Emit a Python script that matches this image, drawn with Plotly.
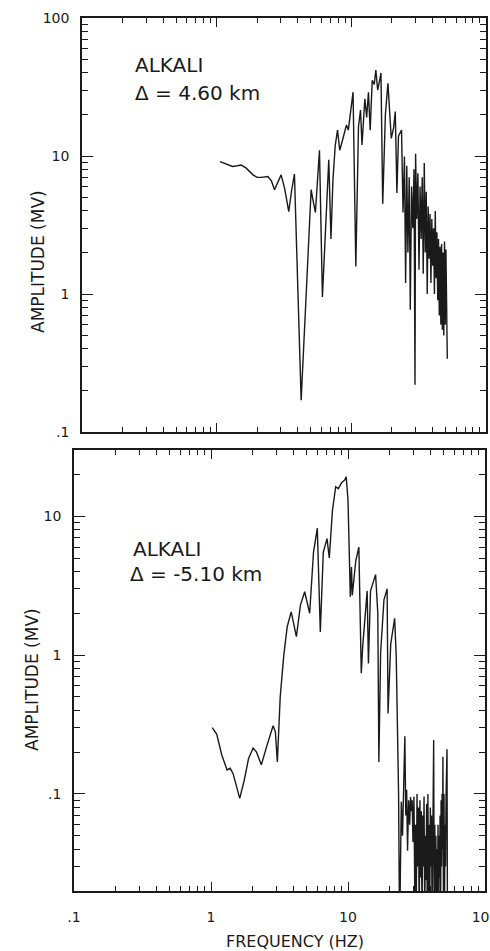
import plotly.graph_objects as go

# ---------------- data ----------------
top_freq = [1.06, 1.15, 1.25, 1.31, 1.42, 1.52, 1.65, 1.86, 2.0, 2.14, 2.4, 2.55, 2.69, 2.85, 3.01,
            3.2, 3.43, 3.6, 3.78, 4.24, 5.03, 5.15, 5.41, 5.8, 6.1, 6.8, 7.06, 7.3, 7.6, 7.9,
            8.2, 8.6, 9.2, 9.5, 10.3, 10.8, 11.3, 11.7, 12.0, 12.6, 13.0, 13.4, 13.8, 14.3, 14.8,
            15.2, 15.7, 16.2, 16.6, 17.1, 17.9, 18.7, 19.8, 20.6, 21.2, 21.8, 22.4, 23.6, 24.2, 24.8,
            25.3, 25.8, 26.3, 26.9, 27.4, 28.0, 28.6, 29.2, 29.7, 30.0, 30.6, 31.2, 31.8, 32.4, 33.0,
            33.6, 34.2, 34.8, 35.4, 36.0, 36.6, 37.2, 37.8, 38.4, 39.0, 39.6, 40.2, 40.8, 41.4, 42.0,
            42.6, 43.2, 43.8, 44.4, 45.0, 45.6, 46.2, 46.8, 47.4, 48.0, 48.6, 49.2, 49.8, 50.4, 51.0,
            51.6]
top_amp = [9.1, 8.8, 8.5, 8.4, 8.5, 8.6, 8.2, 7.3, 7.0, 7.0, 7.1, 6.6, 5.7, 6.4, 7.3,
           5.8, 3.95, 5.6, 7.4, 0.17, 5.7, 5.0, 3.9, 11.0, 0.95, 9.4, 2.5, 6.7, 12.0, 15.4,
           11.0, 13.0, 16.8, 15.4, 29.0, 1.58, 16.3, 21.5, 12.0, 26.0, 19.0, 29.0, 15.4, 35.4, 33.0,
           42.0, 30.0, 35.0, 40.0, 4.5, 20.0, 33.6, 13.4, 16.0, 21.0, 5.4, 14.0, 15.4, 3.9, 9.9,
           1.2, 8.5, 2.0, 7.0, 0.77, 6.0, 3.0, 8.0, 0.22, 10.4, 3.5, 7.5, 1.5, 6.0, 2.5,
           7.0, 1.4, 8.9, 2.0, 5.5, 1.0, 4.3, 1.8, 3.8, 1.2, 3.5, 1.6, 3.0, 1.0, 4.0,
           1.3, 2.8, 0.9, 2.5, 0.7, 2.2, 0.6, 2.3, 0.55, 2.0, 0.5, 2.4, 0.6, 2.1, 0.45,
           0.34]

bot_freq = [1.02, 1.10, 1.2, 1.31, 1.38, 1.45, 1.62, 1.75, 1.88, 2.03, 2.15, 2.33, 2.55, 2.84, 2.95,
            3.05, 3.2, 3.4, 3.6, 3.85, 4.2, 4.5, 4.83, 5.25, 5.6, 5.97, 6.28, 6.6, 7.03, 7.3,
            7.7, 8.13, 8.5, 9.0, 9.46, 9.7, 10.0, 10.4, 10.6, 10.75, 11.4, 12.0, 12.5, 12.8, 13.8,
            14.1, 14.6, 15.9, 16.5, 16.8, 17.3, 18.3, 19.3, 19.6, 20.5, 21.9, 22.5, 23.4, 23.8, 24.5,
            25.0, 25.4, 26.0, 26.4, 26.8, 27.2, 27.7, 28.2, 28.6, 29.0, 29.4, 29.8, 30.3, 30.7, 31.1,
            31.5, 31.9, 32.3, 32.7, 33.1, 33.5, 33.9, 34.3, 34.7, 35.1, 35.5, 35.9, 36.3, 36.7, 37.1,
            37.5, 37.9, 38.3, 38.7, 39.1, 39.5, 39.9, 40.3, 40.7, 41.1, 41.6, 42.2, 42.6, 43.0, 43.4,
            43.8, 44.2, 44.6, 45.0, 45.4, 45.8, 46.2, 46.6, 47.0, 47.4, 47.8, 48.2, 48.6, 49.0, 49.3,
            49.7, 50.2, 50.6, 51.0, 51.5, 52.0, 52.8, 53.2]
bot_amp = [0.30, 0.27, 0.19, 0.149, 0.153, 0.14, 0.093, 0.126, 0.18, 0.214, 0.20, 0.162, 0.22, 0.31, 0.28,
           0.17, 0.5, 1.0, 1.6, 2.05, 1.36, 2.3, 2.86, 2.0, 5.5, 8.2, 1.47, 5.5, 6.9, 5.0,
           11.0, 16.3, 15.8, 17.5, 18.2, 19.2, 13.1, 2.63, 4.3, 2.7, 4.8, 6.0, 0.74, 1.15, 2.9,
           0.87, 2.9, 3.8, 2.0, 0.17, 1.04, 2.5, 3.0, 0.38, 1.2, 1.84, 0.97, 0.1, 0.01, 0.088,
           0.05, 0.09, 0.26, 0.07, 0.107, 0.039, 0.09, 0.06, 0.095, 0.075, 0.09, 0.045, 0.096, 0.02, 0.06,
           0.015, 0.1, 0.03, 0.08, 0.012, 0.09, 0.025, 0.075, 0.012, 0.07, 0.03, 0.096, 0.012, 0.05, 0.024,
           0.085, 0.012, 0.1, 0.02, 0.06, 0.013, 0.08, 0.03, 0.07, 0.012, 0.1, 0.245, 0.012, 0.06, 0.02,
           0.05, 0.012, 0.04, 0.02, 0.06, 0.012, 0.05, 0.025, 0.07, 0.012, 0.09, 0.03, 0.1, 0.04, 0.185,
           0.02, 0.1, 0.012, 0.06, 0.03, 0.1, 0.21, 0.012]

x_major = [0.1, 1, 10, 100]
x_major_text = [".1", "1", "10", "100"]
top_y_major = [0.1, 1, 10, 100]
top_y_major_text = [".1", "1", "10", "100"]
bot_y_major = [0.1, 1, 10]
bot_y_major_text = [".1", "1", "10"]

top_title = ["ALKALI", "Δ = 4.60 km"]
bot_title = ["ALKALI", "Δ = -5.10 km"]
y_title = "AMPLITUDE (MV)"
x_title = "FREQUENCY (HZ)"

# ---------------- figure ----------------
W, H = 490, 951
ML, MR, MT, MB = 72, 4, 18, 60
PW, PH = W - ML - MR, H - MT - MB


def px(xp):
    return (xp - ML) / PW


def py(yp):
    return (H - MB - yp) / PH


minors = [m * 10 ** e for e in range(-2, 3) for m in range(2, 10)]

INK = "#1a1a1a"
FONT = "DejaVu Sans"

fig = go.Figure()
fig.add_trace(go.Scatter(x=top_freq, y=top_amp, mode="lines", xaxis="x", yaxis="y",
                         line=dict(color=INK, width=1.4), showlegend=False))
fig.add_trace(go.Scatter(x=bot_freq, y=bot_amp, mode="lines", xaxis="x2", yaxis="y2",
                         line=dict(color=INK, width=1.4), showlegend=False))


def xax(domain, anchor, labels):
    return dict(type="log", range=[-1, 2], domain=domain, anchor=anchor, automargin=False,
                showgrid=False, zeroline=False, showline=True, linecolor=INK, linewidth=1.6,
                mirror="ticks", ticks="inside", ticklen=9, tickwidth=1.3, tickcolor=INK,
                tickmode="array", tickvals=x_major,
                ticktext=x_major_text if labels else [""] * len(x_major),
                showticklabels=labels, ticklabelstandoff=12, ticklabeloverflow="allow",
                tickfont=dict(family=FONT, size=14, color=INK),
                minor=dict(tickmode="array", tickvals=minors, ticks="inside", ticklen=5,
                           tickwidth=1.2, tickcolor=INK, showgrid=False))


def yax(domain, anchor, rng, vals, text):
    return dict(type="log", range=rng, domain=domain, anchor=anchor, automargin=False,
                showgrid=False, zeroline=False, showline=True, linecolor=INK, linewidth=1.6,
                mirror="ticks", ticks="inside", ticklen=11, tickwidth=1.3, tickcolor=INK,
                tickmode="array", tickvals=vals, ticktext=text, ticklabelstandoff=8,
                tickfont=dict(family=FONT, size=14, color=INK),
                minor=dict(tickmode="array", tickvals=minors, ticks="inside", ticklen=6,
                           tickwidth=1.2, tickcolor=INK, showgrid=False))


top_dom = [py(432), 1.0]
bot_dom = [0.0, py(450)]

fig.update_layout(
    width=W, height=H,
    margin=dict(l=ML, r=MR, t=MT, b=MB),
    paper_bgcolor="white", plot_bgcolor="white",
    xaxis=xax([px(82), 1.0], "y", False),
    yaxis=yax(top_dom, "x", [-1, 2], top_y_major, top_y_major_text),
    xaxis2=xax([px(74), px(485)], "y2", True),
    yaxis2=yax(bot_dom, "x2", [0.30103 - 2, 1.4771], bot_y_major, bot_y_major_text),
    font=dict(family=FONT, color=INK),
)

ann = []


def text(t, x, y, size, xanchor="left", angle=0):
    ann.append(dict(text=t, x=px(x), y=py(y), xref="paper", yref="paper",
                    xanchor=xanchor, yanchor="middle", showarrow=False, textangle=angle,
                    font=dict(family=FONT, size=size, color=INK)))


text(top_title[0], 133, 65, 20)
text(top_title[1], 133, 93, 20)
text(bot_title[0], 131, 549, 20)
text(bot_title[1], 128, 574, 20)
text(y_title, 38, 262, 17, xanchor="center", angle=-90)
text(y_title, 32, 680, 17, xanchor="center", angle=-90)
text(x_title, 295, 941, 16, xanchor="center")

fig.update_layout(annotations=ann)
fig.write_html("out.html", config={"displayModeBar": False},
               post_script="document.body.style.margin='0';document.body.style.overflow='hidden';")
